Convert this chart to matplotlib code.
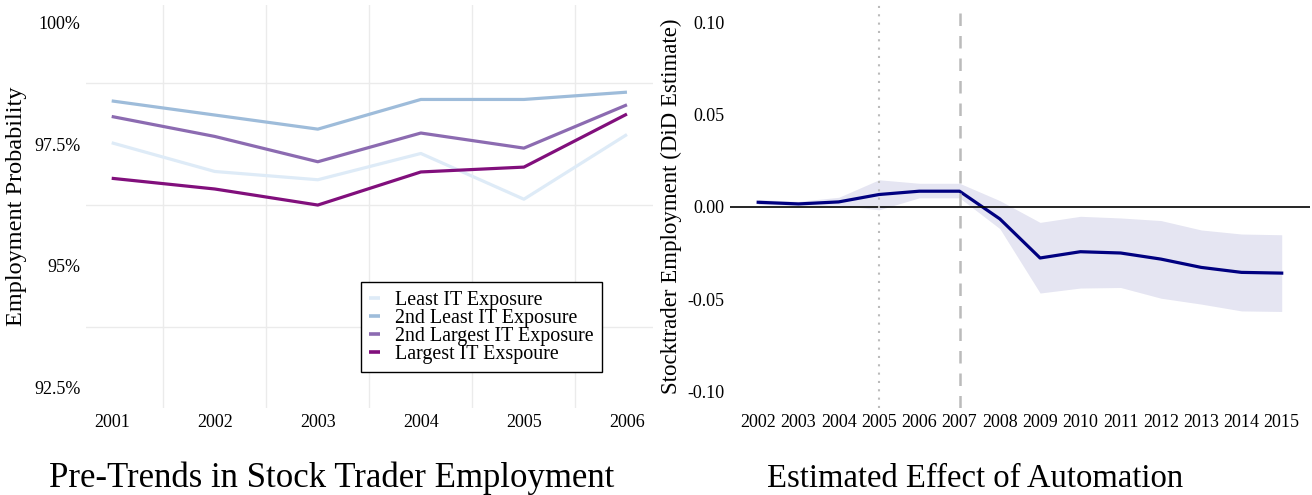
import matplotlib
matplotlib.use("Agg")
import matplotlib.pyplot as plt

plt.rcParams['font.family'] = ['Liberation Serif', 'DejaVu Serif']

# left panel: employment probability by IT exposure group (percent)
pre_years = [2001, 2002, 2003, 2004, 2005, 2006]
least_it = [97.53, 96.94, 96.77, 97.31, 96.37, 97.70]
second_least_it = [98.39, 98.10, 97.81, 98.42, 98.42, 98.57]
second_largest_it = [98.07, 97.66, 97.14, 97.73, 97.42, 98.31]
largest_it = [96.80, 96.58, 96.25, 96.93, 97.03, 98.12]
group_labels = ['Least IT Exposure', '2nd Least IT Exposure',
                '2nd Largest IT Exposure', 'Largest IT Exspoure']
group_colors = ['#deebf7', '#9ebcda', '#8c6bb1', '#810f7c']
pct_ticks = [92.5, 95, 97.5, 100]
pct_labels = ['92.5%', '95%', '97.5%', '100%']

# right panel: DiD estimates with confidence band
did_years = list(range(2002, 2016))
did_est = [0.0025, 0.0016, 0.0027, 0.0067, 0.0085, 0.0085, -0.0065,
           -0.0277, -0.0243, -0.0250, -0.0283, -0.0328, -0.0355, -0.0359]
did_hi = [0.0040, 0.0030, 0.0052, 0.0147, 0.0128, 0.0128, 0.0034,
          -0.0084, -0.0051, -0.0060, -0.0074, -0.0125, -0.0147, -0.0151]
did_lo = [0.0013, 0.0005, 0.0010, -0.0016, 0.0049, 0.0049, -0.0118,
          -0.0467, -0.0440, -0.0437, -0.0495, -0.0527, -0.0564, -0.0567]
did_ticks = [-0.10, -0.05, 0.00, 0.05, 0.10]
did_labels = ['-0.10', '-0.05', '0.00', '0.05', '0.10']

fig = plt.figure(figsize=(13.12, 4.95), dpi=100)
ax1 = fig.add_axes([0.0655, 0.1758, 0.432, 0.814])
ax2 = fig.add_axes([0.5564, 0.1758, 0.442, 0.814])

series = [least_it, second_least_it, second_largest_it, largest_it]
for vals, lab, col in zip(series, group_labels, group_colors):
    ax1.plot(pre_years, vals, color=col, lw=2.3, label=lab, solid_capstyle='butt')

ax1.set_xlim(2000.75, 2006.25)
ax1.set_ylim(92.08, 100.36)
ax1.set_xticks(pre_years)
ax1.set_xticklabels([str(y) for y in pre_years])
ax1.set_yticks(pct_ticks)
ax1.set_yticklabels(pct_labels)
ax1.set_xticks([y + 0.5 for y in pre_years[:-1]], minor=True)
ax1.set_yticks([93.75, 96.25, 98.75], minor=True)
ax1.grid(which='minor', color='#ebebeb', lw=1.0)
ax1.grid(which='major', visible=False)
ax1.tick_params(which='both', length=0, labelsize=13, pad=4)
ax1.set_ylabel('Employment Probability', fontsize=17.5, labelpad=5)
for s in ax1.spines.values():
    s.set_visible(False)

leg = ax1.legend(loc='lower left', bbox_to_anchor=(361 / 1312, 1 - 372 / 495),
                 bbox_transform=fig.transFigure, borderaxespad=0,
                 fontsize=14.4, handlelength=0.55, handletextpad=0.75,
                 labelspacing=-0.05, borderpad=0.42, fancybox=False,
                 framealpha=1, edgecolor='black')
leg.get_frame().set_linewidth(1.0)
for h in leg.get_lines():
    h.set_linewidth(2.6)

ax2.fill_between(did_years, did_lo, did_hi, color='#000080', alpha=0.1, lw=0)
ax2.plot(did_years, did_est, color='#000080', lw=2.3)
ax2.axhline(0, color='black', lw=1.2)
ax2.axvline(2005, color='#bbbbbb', lw=1.5, ls=(0, (1, 3)))
ax2.axvline(2007, color='#bbbbbb', lw=1.8, ls=(0, (5, 4)))
ax2.set_xlim(2001.3, 2015.7)
ax2.set_ylim(-0.109, 0.1094)
ax2.set_xticks(did_years)
ax2.set_xticklabels([str(y) for y in did_years])
ax2.set_yticks(did_ticks)
ax2.set_yticklabels(did_labels)
ax2.tick_params(length=0, labelsize=13, pad=4)
ax2.set_ylabel('Stocktrader Employment (DiD Estimate)', fontsize=16.5, labelpad=4)
for s in ax2.spines.values():
    s.set_visible(False)

fig.text(332 / 1312, 1 - 487 / 495, 'Pre-Trends in Stock Trader Employment',
         ha='center', va='baseline', fontsize=25)
fig.text(975 / 1312, 1 - 487 / 495, 'Estimated Effect of Automation',
         ha='center', va='baseline', fontsize=23.5)

fig.savefig('out.png', dpi=100)
